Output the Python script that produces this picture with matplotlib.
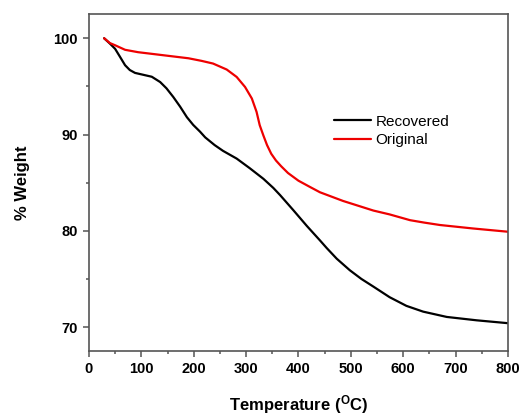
import matplotlib
matplotlib.use("Agg")
import matplotlib.pyplot as plt
from matplotlib.ticker import MultipleLocator

plt.rcParams['font.family'] = ['Liberation Sans', 'DejaVu Sans']

temp_recovered = [29, 40, 50, 59, 69, 78, 88, 104, 120, 136, 148, 161, 174, 187, 199, 212, 222, 240, 256, 282, 307,
                  333, 352, 365, 390, 416, 441, 454, 473, 498, 520, 543, 574, 606, 638, 683, 740, 800]
weight_recovered = [100.0, 99.45, 98.9, 98.1, 97.2, 96.7, 96.4, 96.2, 96.0, 95.45, 94.8, 93.9, 92.9, 91.8, 91.0,
                    90.3, 89.7, 88.9, 88.3, 87.5, 86.5, 85.4, 84.45, 83.7, 82.15, 80.5, 79.0, 78.2, 77.1, 75.9,
                    75.0, 74.2, 73.1, 72.2, 71.6, 71.05, 70.7, 70.4]

temp_original = [29, 40, 50, 69, 94, 126, 158, 190, 215, 237, 263, 282, 298, 311, 320, 326, 333, 340, 348, 357,
                 367, 380, 400, 422, 441, 485, 543, 574, 613, 640, 670, 733, 800]
weight_original = [100.0, 99.5, 99.27, 98.8, 98.55, 98.34, 98.13, 97.92, 97.65, 97.37, 96.75, 95.98, 94.94,
                   93.74, 92.35, 90.97, 89.9, 88.9, 88.0, 87.3, 86.7, 86.0, 85.2, 84.55, 84.0, 83.1, 82.1,
                   81.7, 81.1, 80.85, 80.6, 80.24, 79.9]

fig = plt.figure(figsize=(5.2, 4.17), dpi=100)
ax = fig.add_axes([0.171, 0.158, 0.806, 0.808])

ax.plot(temp_recovered, weight_recovered, color='black', lw=1.6, label='Recovered',
        solid_joinstyle='round', solid_capstyle='round')
ax.plot(temp_original, weight_original, color='#ee0000', lw=1.6, label='Original',
        solid_joinstyle='round', solid_capstyle='round')

ax.set_xlim(0, 800)
ax.set_ylim(67.5, 102.5)
ax.xaxis.set_major_locator(MultipleLocator(100))
ax.xaxis.set_minor_locator(MultipleLocator(50))
ax.yaxis.set_major_locator(MultipleLocator(10))
ax.yaxis.set_minor_locator(MultipleLocator(5))
ax.tick_params(which='major', direction='out', length=4, width=1.1, color='#555555', labelsize=10.5, pad=4)
ax.tick_params(which='minor', direction='out', length=2.5, width=1.1, color='#555555')
ax.tick_params(top=False, right=False, which='both')
for lbl in ax.get_xticklabels() + ax.get_yticklabels():
    lbl.set_fontweight('bold')
for s in ax.spines.values():
    s.set_color('#555555')
    s.set_linewidth(1.2)

ax.set_xlabel('Temperature ($\\mathregular{^{O}}$C)', fontsize=12, fontweight='bold', labelpad=12)
ax.set_ylabel('% Weight', fontsize=12, fontweight='bold', labelpad=17)

ax.legend(loc='upper left', bbox_to_anchor=(0.571, 0.72), frameon=False, fontsize=11,
          handlelength=2.4, handletextpad=0.3, labelspacing=0.3, borderaxespad=0)

fig.savefig('out.png', dpi=100)
